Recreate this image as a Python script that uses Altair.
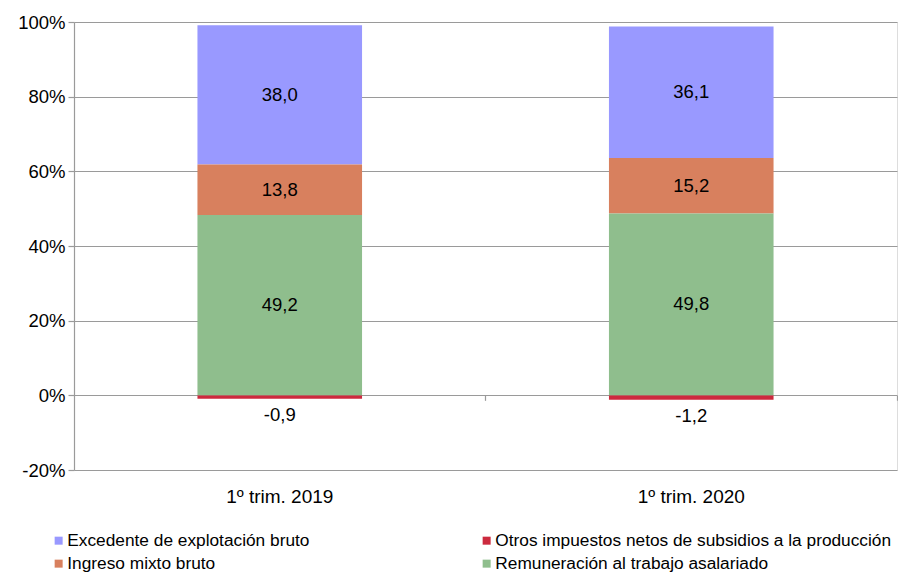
import altair as alt
import pandas as pd

categories = ["1º trim. 2019", "1º trim. 2020"]
series = [
    "Excedente de explotación bruto",
    "Otros impuestos netos de subsidios a la producción",
    "Ingreso mixto bruto",
    "Remuneración al trabajo asalariado",
]
# legend entries are laid out column by column
legend_order = [
    "Excedente de explotación bruto",
    "Ingreso mixto bruto",
    "Otros impuestos netos de subsidios a la producción",
    "Remuneración al trabajo asalariado",
]
colors = ["#9999FF", "#CC2A3E", "#D8805E", "#8FBE8D"]
stack_order = {
    "Remuneración al trabajo asalariado": 0,
    "Ingreso mixto bruto": 1,
    "Excedente de explotación bruto": 2,
    "Otros impuestos netos de subsidios a la producción": 3,
}
excedente = [38.0, 36.1]
otros = [-0.9, -1.2]
ingreso = [13.8, 15.2]
remuneracion = [49.2, 49.8]

values = {
    "Excedente de explotación bruto": excedente,
    "Otros impuestos netos de subsidios a la producción": otros,
    "Ingreso mixto bruto": ingreso,
    "Remuneración al trabajo asalariado": remuneracion,
}

rows = []
for s in series:
    for i, c in enumerate(categories):
        rows.append({"cat": c, "serie": s, "value": values[s][i], "ord": stack_order[s]})
df = pd.DataFrame(rows)
cat_df = pd.DataFrame({"cat": categories})

FONT = "Liberation Sans"
W, H = 823, 448
GRID = "#9a9a9a"

xscale = alt.Scale(domain=categories, paddingInner=0.6, paddingOuter=0.3)
yscale = alt.Scale(domain=[-0.2, 1.0], nice=False, zero=False)

xaxis = alt.Axis(
    orient="bottom", offset=-H / 6.0, labels=False, domain=False,
    ticks=True, bandPosition=1.75, tickSize=5, tickColor=GRID, tickWidth=1.2,
    grid=False, title=None,
)
yaxis = alt.Axis(
    values=[-0.2, 0, 0.2, 0.4, 0.6, 0.8, 1.0],
    labelExpr="round(datum.value*100) + '%'",
    grid=True, gridColor=GRID, gridWidth=1.2,
    domain=True, domainColor=GRID, domainWidth=1.2,
    ticks=True, tickColor=GRID, tickSize=6, tickWidth=1.2,
    labelFont=FONT, labelFontSize=18.5, labelColor="black", labelPadding=3,
    title=None,
)

base = (
    alt.Chart(df)
    .transform_calculate(absval="abs(datum.value)")
    .transform_joinaggregate(total="sum(absval)", groupby=["cat"])
    .transform_calculate(share="datum.value / datum.total")
    .transform_stack(stack="share", groupby=["cat"], as_=["y0", "y1"],
                     sort=[alt.SortField("ord", order="ascending")], offset="zero")
    .transform_calculate(
        lo="min(datum.y0, datum.y1)",
        hi="max(datum.y0, datum.y1)",
        mid="(datum.y0 + datum.y1) / 2",
        lbl="(datum.value < 0 ? '-' : '') + replace(format(abs(datum.value), '.1f'), '.', ',')",
    )
)

bars = base.mark_bar(strokeWidth=0).encode(
    x=alt.X("cat:N", scale=xscale, axis=xaxis, sort=categories),
    y=alt.Y("lo:Q", scale=yscale, axis=yaxis),
    y2="hi:Q",
    color=alt.Color(
        "serie:N",
        scale=alt.Scale(domain=series, range=colors),
        legend=alt.Legend(
            values=legend_order,
            title=None, orient="none", legendX=-24, legendY=510,
            columns=2, columnPadding=168, rowPadding=5, padding=0,
            symbolType="square", symbolSize=64, symbolStrokeWidth=0,
            labelFont=FONT, labelFontSize=17.3, labelColor="black",
            labelLimit=0, labelOffset=0,
        ),
    ),
)

pos_text = base.transform_filter("datum.value > 0").mark_text(
    font=FONT, fontSize=18.5, color="black", baseline="middle", align="center"
).encode(
    x=alt.X("cat:N", scale=xscale, axis=xaxis, sort=categories),
    y=alt.Y("mid:Q", scale=yscale, axis=yaxis),
    text="lbl:N",
)

neg_text = base.transform_filter("datum.value < 0").mark_text(
    font=FONT, fontSize=18.5, color="black", baseline="middle", align="center", dy=16
).encode(
    x=alt.X("cat:N", scale=xscale, axis=xaxis, sort=categories),
    y=alt.Y("lo:Q", scale=yscale, axis=yaxis),
    text="lbl:N",
)

cat_text = alt.Chart(cat_df).mark_text(
    font=FONT, fontSize=19, color="black", baseline="middle", align="center"
).encode(
    x=alt.X("cat:N", scale=xscale, axis=xaxis, sort=categories),
    y=alt.value(H + 27),
    text="cat:N",
)

chart = (
    alt.layer(bars, pos_text, neg_text, cat_text)
    .properties(
        width=W, height=H,
        autosize=alt.AutoSizeParams(type="none"),
        padding={"left": 66, "top": 14, "right": 1, "bottom": 103},
    )
    .configure_view(stroke=None)
    .configure(background="white")
)

chart.save("out.html", embed_options={"renderer": "svg", "actions": False})
